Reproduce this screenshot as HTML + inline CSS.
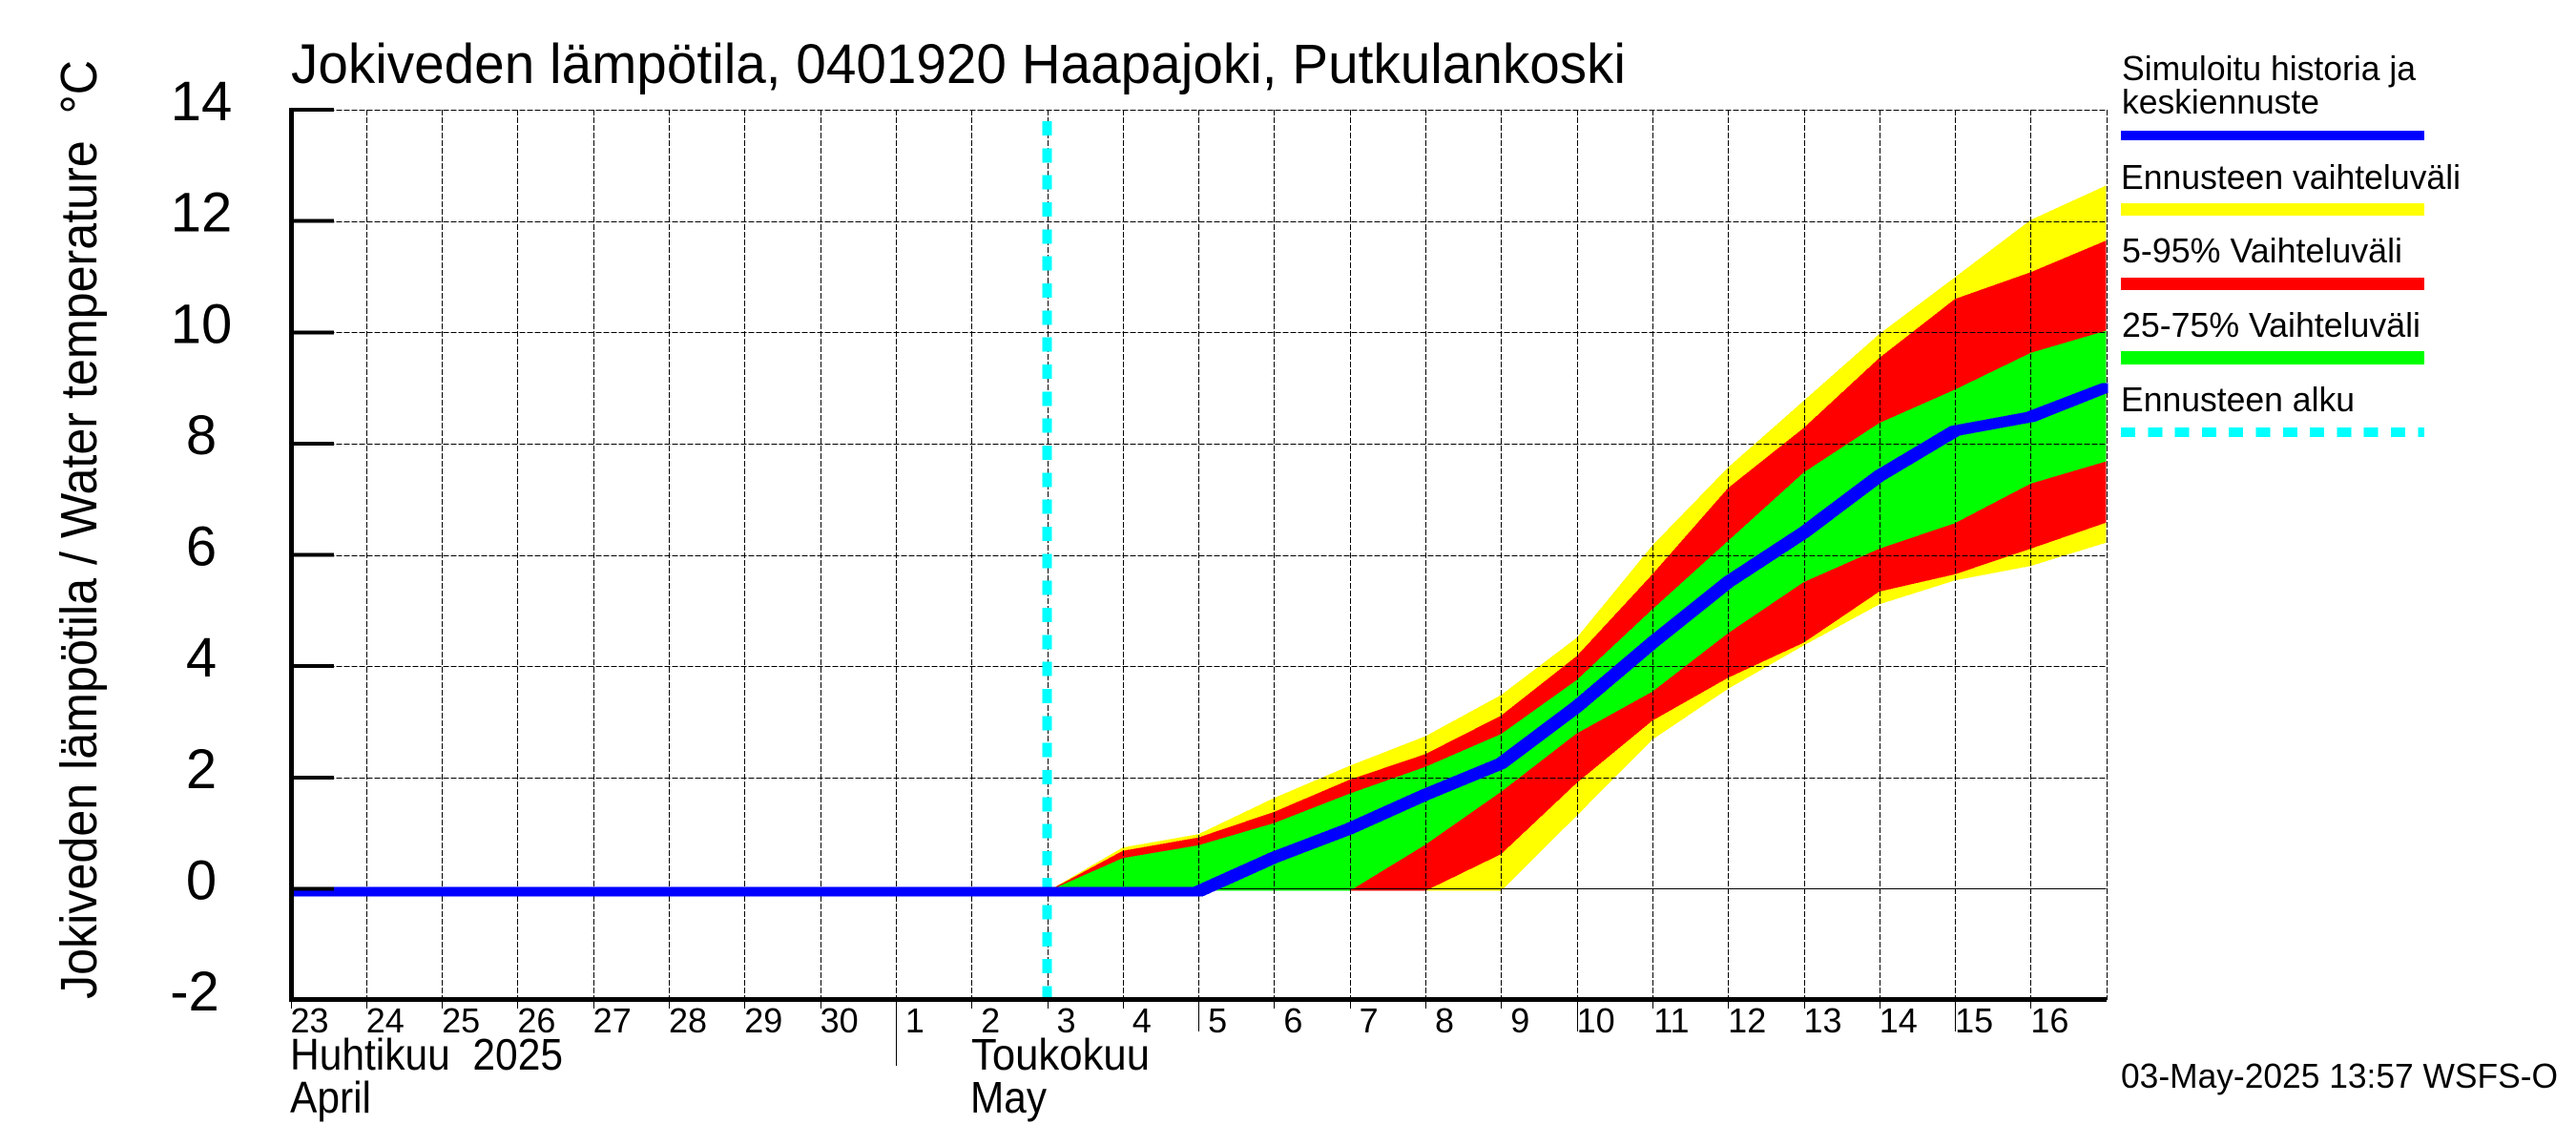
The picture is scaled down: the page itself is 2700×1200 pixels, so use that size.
<!DOCTYPE html>
<html lang="fi">
<head>
<meta charset="utf-8">
<title>Jokiveden lämpötila</title>
<style>
html,body{margin:0;padding:0;background:#fff;}
svg{display:block;}
text{font-family:"Liberation Sans",sans-serif;fill:#000;white-space:pre;}
</style>
</head>
<body>
<svg id="chart" xmlns="http://www.w3.org/2000/svg" width="2700" height="1200" viewBox="0 0 2700 1200">
  <rect x="0" y="0" width="2700" height="1200" fill="#fff"/>
  <g id="bands" shape-rendering="crispEdges"></g>
  <g id="grid" shape-rendering="crispEdges"></g>
  <g id="marks" shape-rendering="crispEdges"></g>
  <g id="axes" shape-rendering="crispEdges"></g>
  <g id="labels"></g>

  <text x="305" y="87" font-size="58" textLength="1399" lengthAdjust="spacingAndGlyphs">Jokiveden lämpötila, 0401920 Haapajoki, Putkulankoski</text>
  <text transform="translate(101,1047) rotate(-90)" font-size="54" textLength="984" lengthAdjust="spacingAndGlyphs">Jokiveden lämpötila / Water temperature  °C</text>

  <text x="304" y="1121" font-size="46" textLength="286" lengthAdjust="spacingAndGlyphs">Huhtikuu  2025</text>
  <text x="304" y="1166" font-size="46" textLength="85" lengthAdjust="spacingAndGlyphs">April</text>
  <text x="1018" y="1121" font-size="46" textLength="187" lengthAdjust="spacingAndGlyphs">Toukokuu</text>
  <text x="1017" y="1166" font-size="46" textLength="80" lengthAdjust="spacingAndGlyphs">May</text>

  <g>
    <text x="2224" y="84" font-size="36" textLength="308" lengthAdjust="spacingAndGlyphs">Simuloitu historia ja</text>
    <text x="2224" y="119" font-size="36" textLength="207" lengthAdjust="spacingAndGlyphs">keskiennuste</text>
    <rect x="2223" y="137" width="318" height="10" fill="#0000ff"/>
    <text x="2223" y="198" font-size="36" textLength="356" lengthAdjust="spacingAndGlyphs">Ennusteen vaihteluväli</text>
    <rect x="2223" y="213" width="318" height="13" fill="#ffff00"/>
    <text x="2224" y="275" font-size="36" textLength="294" lengthAdjust="spacingAndGlyphs">5-95% Vaihteluväli</text>
    <rect x="2223" y="291" width="318" height="13" fill="#ff0000"/>
    <text x="2224" y="353" font-size="36" textLength="313" lengthAdjust="spacingAndGlyphs">25-75% Vaihteluväli</text>
    <rect x="2223" y="368" width="318" height="14" fill="#00ff00"/>
    <text x="2223" y="431" font-size="36" textLength="245" lengthAdjust="spacingAndGlyphs">Ennusteen alku</text>
    <line x1="2223" y1="453" x2="2541" y2="453" stroke="#00ffff" stroke-width="10" stroke-dasharray="15 13.3" shape-rendering="crispEdges"/>
  </g>

  <text x="2223" y="1140" font-size="36" textLength="458" lengthAdjust="spacingAndGlyphs">03-May-2025 13:57 WSFS-O</text>
</svg>
<script>
// Chart data (values in °C, daily). Forecast arrays start on May 3.
const dayLabels = ['23','24','25','26','27','28','29','30','1','2','3','4','5','6','7','8','9','10','11','12','13','14','15','16'];
const yTickValues = [14,12,10,8,6,4,2,0,-2];
const medianValues = [-0.05,-0.05,-0.05,-0.05,-0.05,-0.05,-0.05,-0.05,-0.05,-0.05,-0.05,-0.05,-0.05,0.56,1.08,1.69,2.25,3.27,4.42,5.51,6.40,7.42,8.23,8.48,9.0];
const fullRangeUpper = [-0.05,0.74,0.98,1.63,2.21,2.74,3.48,4.51,6.17,7.57,8.77,9.97,10.99,12.02,12.64];
const upper95 = [-0.05,0.68,0.92,1.38,1.96,2.42,3.11,4.18,5.65,7.2,8.28,9.54,10.6,11.08,11.65];
const upper75 = [-0.05,0.55,0.78,1.18,1.71,2.19,2.78,3.75,5.02,6.25,7.48,8.37,8.97,9.63,10.03];
const lower25 = [-0.04,-0.04,-0.04,-0.04,-0.04,0.79,1.74,2.79,3.54,4.59,5.51,6.11,6.57,7.28,7.68];
const lower5 = [-0.04,-0.04,-0.04,-0.04,-0.04,-0.04,0.62,1.9,3.02,3.79,4.42,5.34,5.65,6.11,6.58];
const fullRangeLower = [-0.04,-0.04,-0.04,-0.04,-0.04,-0.04,-0.04,1.31,2.68,3.59,4.37,5.11,5.54,5.80,6.22];
const forecastStartIndex = 10;
const longTickIndexes = [12,17,22];
const monthTickIndex = 8;

const NS = 'http://www.w3.org/2000/svg';
const plotLeft = 304.5, dayWidth = 79.3, plotRight = 2207.7;
const plotTop = 115, plotBottom = 1048, yMax = 14, yMin = -2;
const penHalf = 5;
function xScale(i){ return plotLeft + i * dayWidth; }
function yScale(v){ return plotTop + (yMax - v) * (plotBottom - plotTop) / (yMax - yMin); }
function crisp(p){ return Math.round(p) + 0.5; }
function make(tag, parent){
  const el = document.createElementNS(NS, tag);
  parent.appendChild(el);
  return el;
}
function linePoints(values, startIndex){
  return values.map(function(v, i){ return xScale(startIndex + i).toFixed(1) + ',' + yScale(v).toFixed(1); });
}
function bandPoints(upper, lower){
  return linePoints(upper, forecastStartIndex).concat(linePoints(lower, forecastStartIndex).reverse()).join(' ');
}
// The reference line is drawn with a square pen, so each rising segment is swept as a hexagon.
function squarePenPath(values){
  let d = '';
  for (let i = 0; i < values.length - 1; i++) {
    const x0 = xScale(i), x1 = xScale(i + 1), y0 = yScale(values[i]), y1 = yScale(values[i + 1]);
    const left0 = Math.max(x0 - penHalf, plotLeft);
    const right0 = x0 + penHalf;
    const left1 = x1 - penHalf;
    const right1 = Math.min(x1 + penHalf, plotRight + 2);
    d += 'M' + left0.toFixed(1) + ' ' + (y0 - penHalf).toFixed(1) +
         'L' + left1.toFixed(1) + ' ' + (y1 - penHalf).toFixed(1) +
         'L' + right1.toFixed(1) + ' ' + (y1 - penHalf).toFixed(1) +
         'L' + right1.toFixed(1) + ' ' + (y1 + penHalf).toFixed(1) +
         'L' + right0.toFixed(1) + ' ' + (y0 + penHalf).toFixed(1) +
         'L' + left0.toFixed(1) + ' ' + (y0 + penHalf).toFixed(1) + 'Z';
  }
  return d;
}

const bands = document.getElementById('bands');
const gridLayer = document.getElementById('grid');
const marks = document.getElementById('marks');
const axes = document.getElementById('axes');
const labels = document.getElementById('labels');

const fullBand = make('polygon', bands);


fullBand.setAttribute('fill', '#ffff00');
fullBand.setAttribute('points', bandPoints(fullRangeUpper, fullRangeLower));

const band595 = make('polygon', bands);


band595.setAttribute('fill', '#ff0000');
band595.setAttribute('points', bandPoints(upper95, lower5));

const band2575 = make('polygon', bands);


band2575.setAttribute('fill', '#00ff00');
band2575.setAttribute('points', bandPoints(upper75, lower25));

// Horizontal grid lines and y ticks
yTickValues.forEach(function(v){
  const g = make('line', gridLayer);
  
  
  g.setAttribute('x1', plotLeft);
  g.setAttribute('x2', plotRight);
  g.setAttribute('y1', crisp(yScale(v)));
  g.setAttribute('y2', crisp(yScale(v)));
  g.setAttribute('stroke', '#000');
  g.setAttribute('stroke-width', '1');
  g.setAttribute('stroke-dasharray', '6 2');

  const t = make('line', axes);
  
  
  t.setAttribute('x1', plotLeft);
  t.setAttribute('x2', 350);
  t.setAttribute('y1', yScale(v));
  t.setAttribute('y2', yScale(v));
  t.setAttribute('stroke', '#000');
  t.setAttribute('stroke-width', '4');

  const l = make('text', labels);
  
  
  l.setAttribute('x', v < 0 ? 204 : 211);
  l.setAttribute('y', yScale(v) + 11);
  l.setAttribute('font-size', '58');
  l.setAttribute('text-anchor', 'middle');
  l.textContent = String(v);
});

// Vertical grid lines, x ticks and day labels
for (let i = 0; i <= dayLabels.length; i++) {
  const g = make('line', gridLayer);
  
  
  g.setAttribute('x1', crisp(xScale(i)));
  g.setAttribute('x2', crisp(xScale(i)));
  g.setAttribute('y1', plotTop);
  g.setAttribute('y2', plotBottom);
  g.setAttribute('stroke', '#000');
  g.setAttribute('stroke-width', '1');
  g.setAttribute('stroke-dasharray', '6 2');
  if (i < dayLabels.length) {
    let tickEnd = 1057;
    if (longTickIndexes.indexOf(i) >= 0) tickEnd = 1081;
    if (i === monthTickIndex) tickEnd = 1117;
    const t = make('line', axes);
    
    
    t.setAttribute('x1', crisp(xScale(i)));
    t.setAttribute('x2', crisp(xScale(i)));
    t.setAttribute('y1', plotBottom);
    t.setAttribute('y2', tickEnd);
    t.setAttribute('stroke', '#000');
    t.setAttribute('stroke-width', '1');

    const l = make('text', labels);
    
    
    l.setAttribute('x', xScale(i) + 20);
    l.setAttribute('y', 1082);
    l.setAttribute('font-size', '36');
    l.setAttribute('text-anchor', 'middle');
    l.textContent = dayLabels[i];
  }
}

// Zero reference line
const zeroLine = make('line', marks);


zeroLine.setAttribute('x1', plotLeft);
zeroLine.setAttribute('x2', plotRight);
zeroLine.setAttribute('y1', crisp(yScale(0)));
zeroLine.setAttribute('y2', crisp(yScale(0)));
zeroLine.setAttribute('stroke', '#000');
zeroLine.setAttribute('stroke-width', '1');

// Forecast start marker
const startLine = make('line', marks);


startLine.setAttribute('x1', xScale(forecastStartIndex));
startLine.setAttribute('x2', xScale(forecastStartIndex));
startLine.setAttribute('y1', 127);
startLine.setAttribute('y2', plotBottom);
startLine.setAttribute('stroke', '#00ffff');
startLine.setAttribute('stroke-width', '10');
startLine.setAttribute('stroke-dasharray', '15 13.33');

// Median line
const medianLine = make('path', marks);


medianLine.setAttribute('d', squarePenPath(medianValues));
medianLine.setAttribute('fill', '#0000ff');

// Axis lines
const yAxisLine = make('line', axes);


yAxisLine.setAttribute('x1', 305.5);
yAxisLine.setAttribute('x2', 305.5);
yAxisLine.setAttribute('y1', plotTop - 2);
yAxisLine.setAttribute('y2', plotBottom + 2);
yAxisLine.setAttribute('stroke', '#000');
yAxisLine.setAttribute('stroke-width', '5');

const xAxisLine = make('line', axes);


xAxisLine.setAttribute('x1', 303);
xAxisLine.setAttribute('x2', 2208);
xAxisLine.setAttribute('y1', 1047.5);
xAxisLine.setAttribute('y2', 1047.5);
xAxisLine.setAttribute('stroke', '#000');
xAxisLine.setAttribute('stroke-width', '5');
</script>
</body>
</html>
